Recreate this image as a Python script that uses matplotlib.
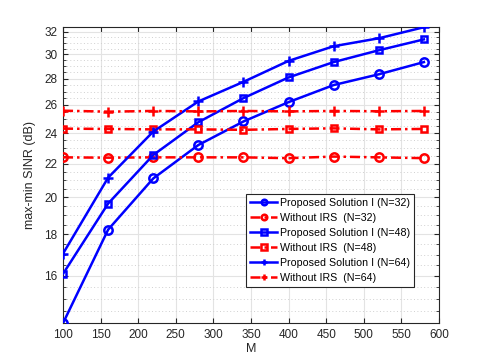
import matplotlib
matplotlib.use('Agg')
import matplotlib.pyplot as plt
from matplotlib.ticker import FixedLocator, NullFormatter, FixedFormatter

plt.rcParams['font.family'] = ['Liberation Sans', 'DejaVu Sans']

# 数据
M = [100, 160, 220, 280, 340, 400, 460, 520, 580]

prop_n32 = [14.0, 18.25, 21.1, 23.2, 24.8, 26.2, 27.5, 28.35, 29.35]
noirs_n32 = [22.4, 22.38, 22.4, 22.4, 22.4, 22.35, 22.45, 22.4, 22.35]
prop_n48 = [16.1, 19.65, 22.55, 24.75, 26.5, 28.1, 29.35, 30.35, 31.3]
noirs_n48 = [24.3, 24.28, 24.25, 24.25, 24.22, 24.28, 24.32, 24.25, 24.28]
prop_n64 = [17.05, 21.15, 24.1, 26.25, 27.75, 29.45, 30.7, 31.4, 32.4]
noirs_n64 = [25.57, 25.5, 25.55, 25.52, 25.55, 25.52, 25.55, 25.53, 25.55]

y_ticks = [16, 18, 20, 22, 24, 26, 28, 30, 32]
x_ticks = [100, 150, 200, 250, 300, 350, 400, 450, 500, 550, 600]

fig = plt.figure(figsize=(4.85, 3.63), dpi=100)
ax = fig.add_axes([0.13, 0.11, 0.775, 0.815])

lw = 1.8
dashdot = (0, (4, 1.6, 1, 1.6))
series = [
    (prop_n32, 'b', '-', 'o', 6.0, 'Proposed Solution I (N=32)'),
    (noirs_n32, 'r', dashdot, 'o', 6.0, 'Without IRS  (N=32)'),
    (prop_n48, 'b', '-', 's', 5.0, 'Proposed Solution I (N=48)'),
    (noirs_n48, 'r', dashdot, 's', 5.0, 'Without IRS  (N=48)'),
    (prop_n64, 'b', '-', '+', 6.5, 'Proposed Solution I (N=64)'),
    (noirs_n64, 'r', dashdot, '+', 6.5, 'Without IRS  (N=64)'),
]
for ys, c, ls, mk, ms, lab in series:
    ax.plot(M, ys, color=c, linestyle=ls, marker=mk, lw=lw, markersize=ms,
            markerfacecolor='none', markeredgewidth=1.8, label=lab, zorder=5)

ax.set_yscale('log')
ax.set_xlim(100, 600)
ax.set_ylim(14.0, 32.4)
ax.yaxis.set_major_locator(FixedLocator(y_ticks))
ax.yaxis.set_major_formatter(FixedFormatter([str(t) for t in y_ticks]))
minor = [v / 2 for v in range(28, 65) if v % 4 != 0]
ax.yaxis.set_minor_locator(FixedLocator(minor))
ax.yaxis.set_minor_formatter(NullFormatter())
ax.set_xticks(x_ticks)

ax.grid(True, which='major', color='#e3e3e3', linestyle='-', linewidth=0.8)
ax.grid(True, which='minor', axis='y', color='#d0d0d0', linestyle=(0, (1, 2.5)), linewidth=0.7)
ax.set_axisbelow(True)

dark = '#262626'
for sp in ax.spines.values():
    sp.set_color(dark)
    sp.set_linewidth(0.8)
ax.tick_params(which='both', direction='in', top=True, right=True, colors=dark,
               labelsize=8.5, pad=4)
ax.tick_params(which='major', length=3.5)
ax.tick_params(which='minor', length=2)

ax.set_xlabel('M', fontsize=9, color=dark, labelpad=2)
ax.set_ylabel('max-min SINR (dB)', fontsize=9, color=dark, labelpad=6)

leg = ax.legend(loc='lower left', bbox_to_anchor=(0.488, 0.122), fontsize=7.7,
                handlelength=2.5, handletextpad=0.3, labelspacing=0.47,
                borderpad=0.35, borderaxespad=0, fancybox=False, framealpha=1,
                edgecolor=dark)
leg.get_frame().set_linewidth(0.8)
for h in leg.get_lines():
    h.set_markersize(4)

fig.savefig('out.png', dpi=100)
